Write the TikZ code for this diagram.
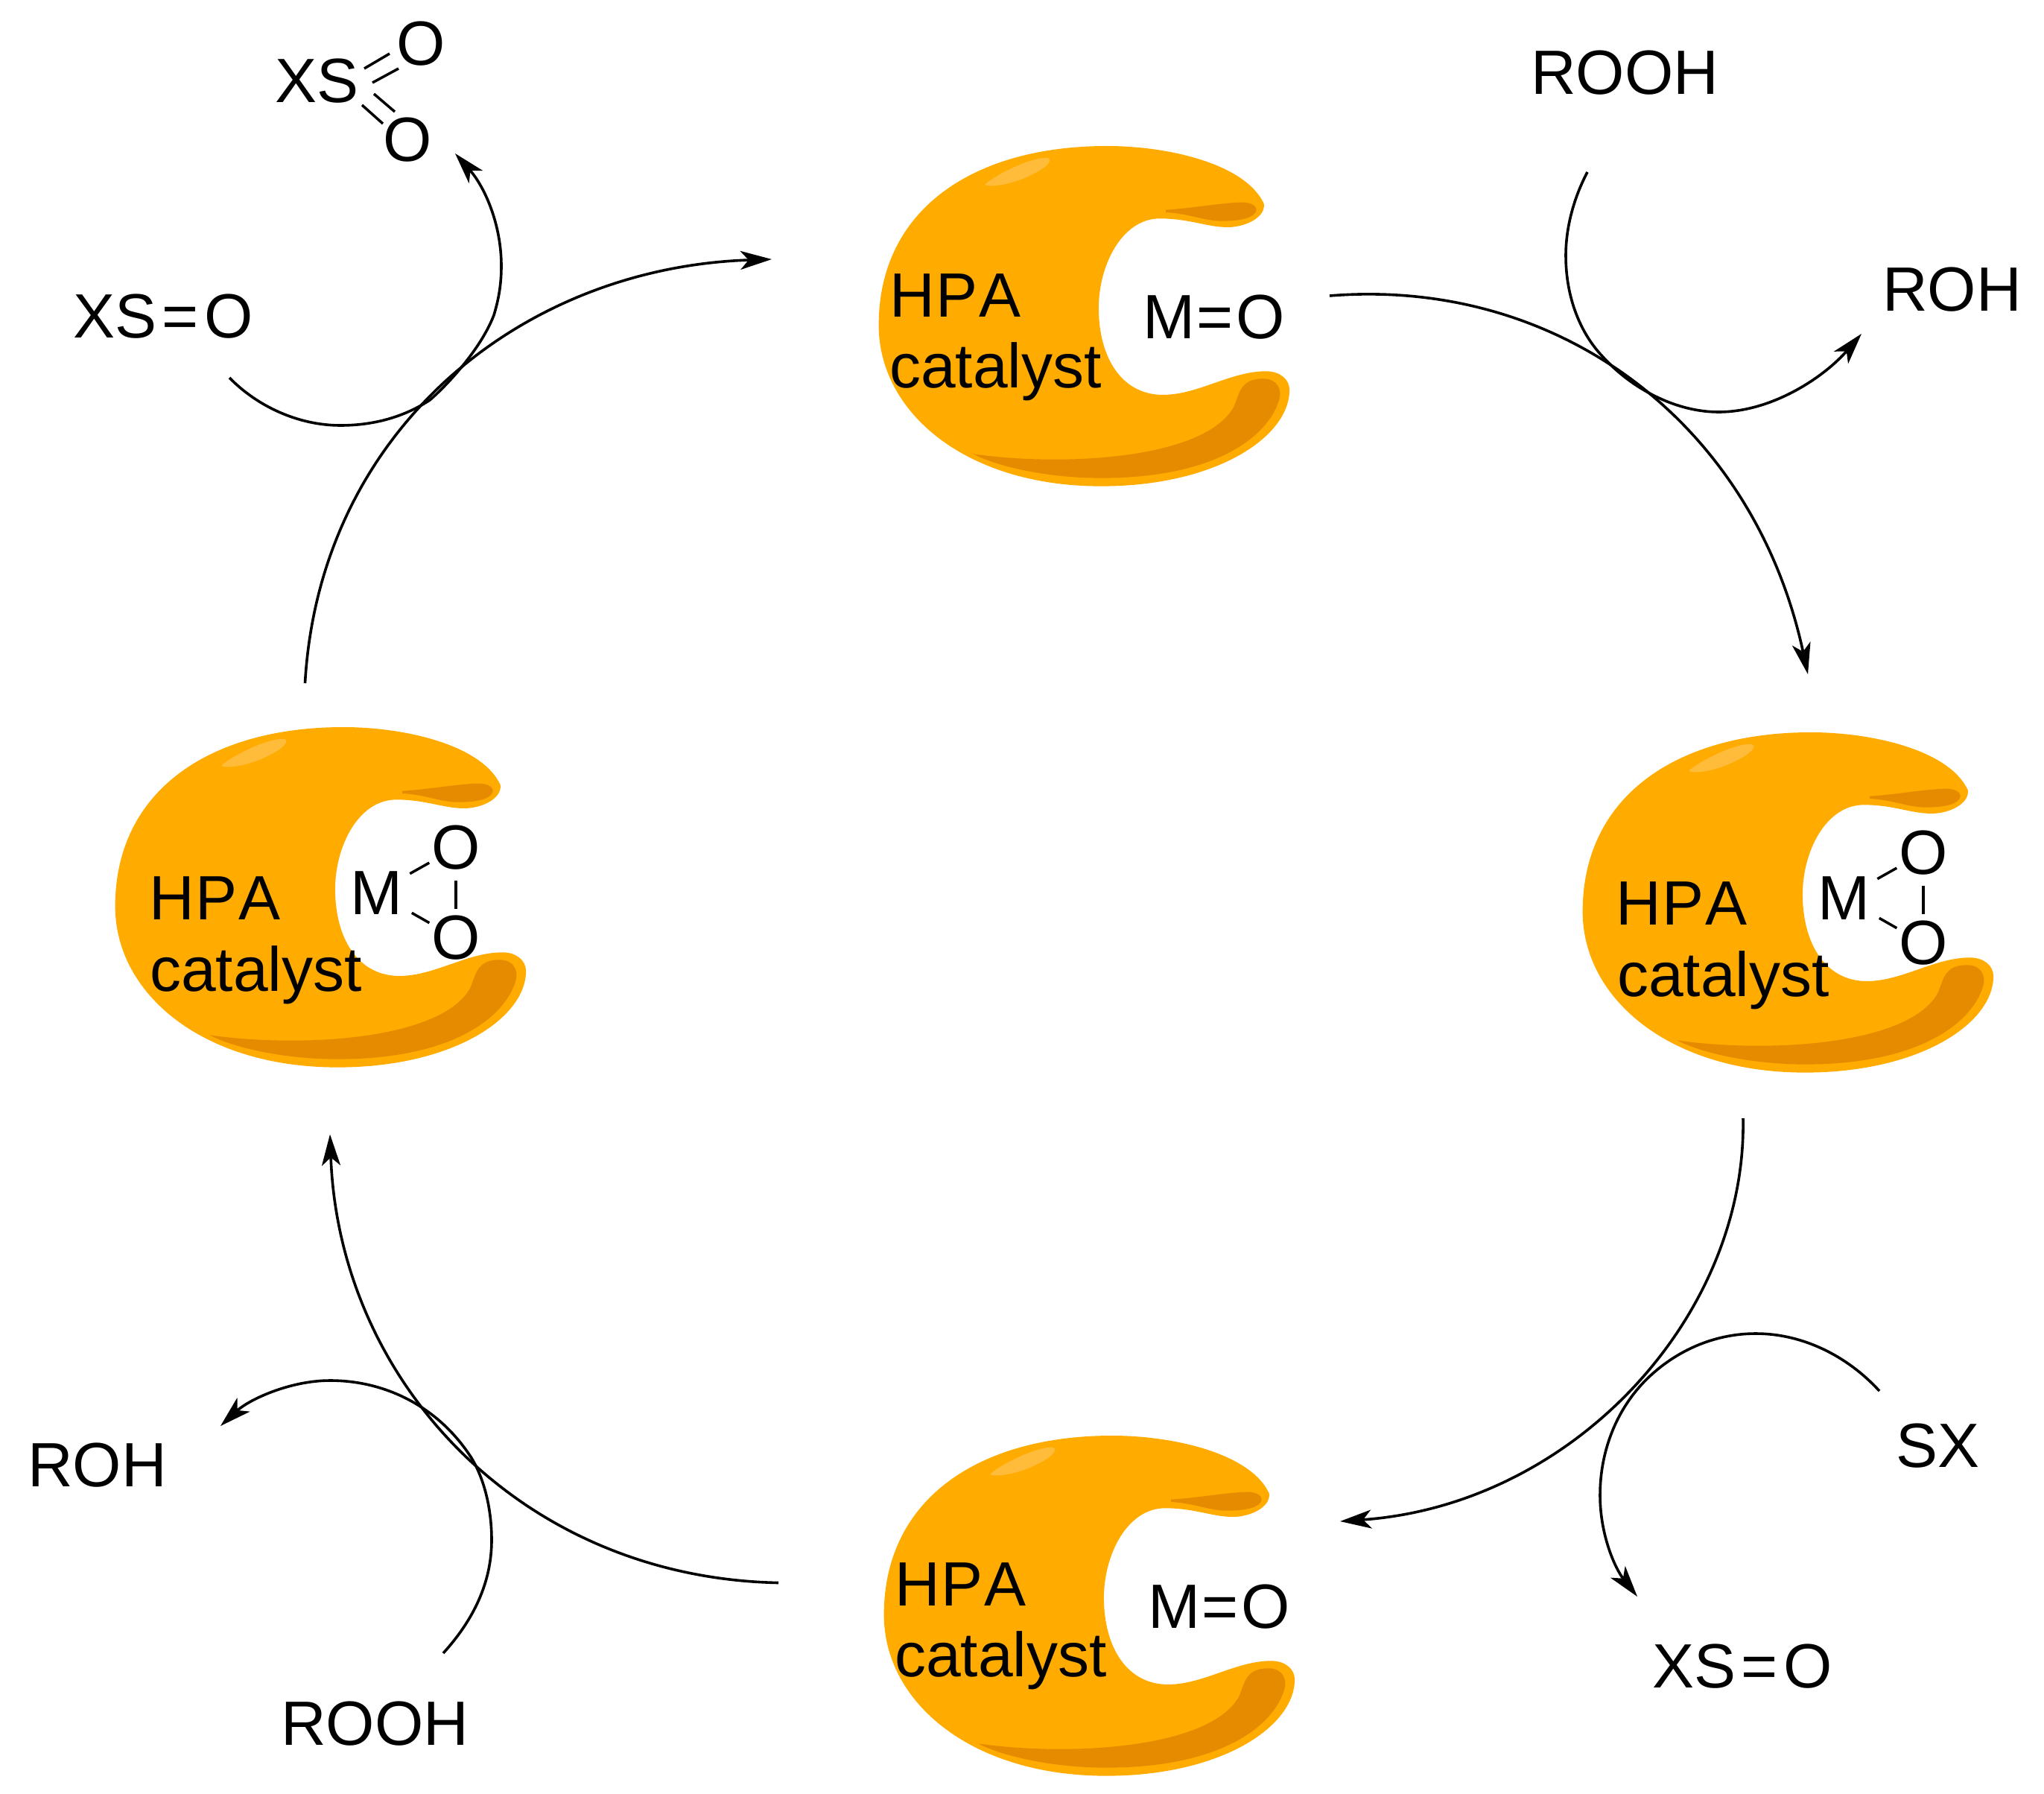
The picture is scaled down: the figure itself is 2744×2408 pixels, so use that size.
\documentclass[tikz,border=0pt]{standalone}
\usepackage{fontspec}
\setmainfont{Liberation Sans}
\usetikzlibrary{arrows.meta}
\definecolor{hpamain}{HTML}{FFAB00}
\definecolor{hpadark}{HTML}{E68A00}
\definecolor{hpalight}{HTML}{FFBC3A}
\tikzset{
  lbl/.style={inner sep=0pt,outer sep=0pt,anchor=base west,xshift=-3pt,yshift=3pt,font=\fontsize{84}{84}\selectfont},
  atom/.style={inner sep=0pt,outer sep=0pt,anchor=center,font=\fontsize{84}{84}\selectfont},
  bond/.style={line width=3.5pt,black},
  arc/.style={line width=3.6pt,black,-{Stealth[length=42pt,width=25pt,inset=11pt]}},
  pics/blob/.style={code={
    \begin{scope}[x=0.3953pt,y=-0.3333pt]
      \fill[hpamain] (850,78) .. controls (1060,78) and (1320,150) .. (1383,310)
        .. controls (1390,365) and (1320,405) .. (1260,405)
        .. controls (1190,405) and (1130,370) .. (1030,370)
        .. controls (900,370) and (822,560) .. (822,730)
        .. controls (822,930) and (900,1080) .. (1040,1080)
        .. controls (1160,1080) and (1270,985) .. (1390,985)
        .. controls (1440,985) and (1470,1020) .. (1470,1060)
        .. controls (1470,1250) and (1220,1448) .. (830,1448)
        .. controls (370,1448) and (75,1150) .. (75,800)
        .. controls (75,330) and (400,78) .. (850,78) -- cycle;
      \fill[hpadark] (1050,335) .. controls (1130,330) and (1250,305) .. (1310,305)
        .. controls (1345,305) and (1365,325) .. (1355,345)
        .. controls (1340,375) and (1280,380) .. (1240,380)
        .. controls (1180,380) and (1130,350) .. (1050,345) -- cycle;
      \fill[hpadark] (395,1318) .. controls (700,1370) and (1180,1340) .. (1280,1130)
        .. controls (1300,1080) and (1300,1015) .. (1380,1015)
        .. controls (1430,1015) and (1445,1060) .. (1435,1100)
        .. controls (1400,1240) and (1230,1415) .. (830,1415)
        .. controls (650,1415) and (480,1370) .. (395,1318) -- cycle;
      \fill[hpalight] (440,228) .. controls (480,190) and (580,130) .. (640,125)
        .. controls (665,125) and (660,145) .. (630,170)
        .. controls (570,215) and (500,240) .. (450,238)
        .. controls (435,237) and (435,232) .. (440,228) -- cycle;
    \end{scope}
  }}
}
\newcommand{\dbleq}[1]{\kern#1=\kern#1}
\newcommand{\hpatext}{H\kern2pt P\kern2pt A}
\begin{document}
\begin{tikzpicture}[x=1pt,y=-1pt]
\useasboundingbox[fill=white] (0,0) rectangle (2744,2408);
% catalysts
\pic at (1150,170) {blob};
\pic at (2095,957) {blob};
\pic at (1157,1901) {blob};
\pic at (125,950) {blob};
% top catalyst
\node[lbl] (thpa) at (1197,428) {\hpatext};
\node[lbl] (tcat) at (1197,523) {catalyst};
\node[lbl] (tmo) at (1537,457) {M\dbleq{3pt}O};
% bottom catalyst
\node[lbl] (bhpa) at (1204,2158) {\hpatext};
\node[lbl] (bcat) at (1204,2253) {catalyst};
\node[lbl] (bmo) at (1544,2188) {M\dbleq{3pt}O};
% left catalyst
\node[lbl] (lhpa) at (203,1237) {\hpatext};
\node[lbl] (lcat) at (204,1333) {catalyst};
\node[lbl] (lm) at (473,1230) {M};
\node[atom] (lo1) at (612,1138) {O};
\node[atom] (lo2) at (612,1259) {O};
\draw[bond,shorten <=52pt,shorten >=41pt] (lm.center) -- (lo1.center);
\draw[bond,shorten <=55pt,shorten >=41pt] (lm.center) -- (lo2.center);
\draw[bond,shorten <=14pt,shorten >=9pt] (lo1.south) -- (lo2.north);
% right catalyst
\node[lbl] (rhpa) at (2172,1244) {\hpatext};
\node[lbl] (rcat) at (2174,1340) {catalyst};
\node[lbl] (rm) at (2443,1237) {M};
\node[atom] (ro1) at (2582,1145) {O};
\node[atom] (ro2) at (2582,1266) {O};
\draw[bond,shorten <=52pt,shorten >=41pt] (rm.center) -- (ro1.center);
\draw[bond,shorten <=55pt,shorten >=41pt] (rm.center) -- (ro2.center);
\draw[bond,shorten <=14pt,shorten >=9pt] (ro1.south) -- (ro2.north);
% species
\node[lbl] (xso1) at (101,456) {XS\dbleq{7.5pt}O};
\node[lbl] (xs) at (372,141) {XS};
\node[atom] (so1) at (565,59) {O};
\node[atom] (so2) at (547,188) {O};
\coordinate (d1a) at (489,92); \coordinate (d1b) at (523,72);
\coordinate (d2a) at (500,111); \coordinate (d2b) at (535,92);
\coordinate (d3a) at (502,126); \coordinate (d3b) at (530,150);
\coordinate (d4a) at (486,141); \coordinate (d4b) at (514,166);
\draw[bond] (d1a) -- (d1b);
\draw[bond] (d2a) -- (d2b);
\draw[bond] (d3a) -- (d3b);
\draw[bond] (d4a) -- (d4b);
\node[lbl] (rooh1) at (2058,130) {ROOH};
\node[lbl] (roh1) at (2530,420) {ROH};
\node[lbl] (sx) at (2548,1972) {SX};
\node[lbl] (xso2) at (2221,2268) {XS\dbleq{7.5pt}O};
\node[lbl] (roh2) at (40,1998) {ROH};
\node[lbl] (rooh2) at (380,2345) {ROOH};
% connector ends
\coordinate (c1s) at (1785,397); \coordinate (c1e) at (2427,905);
\coordinate (c2s) at (2340,1501); \coordinate (c2e) at (1799,2042);
\coordinate (c3s) at (1045,2124.5); \coordinate (c3e) at (443,1522.5);
\coordinate (c4s) at (409.5,917); \coordinate (c4e) at (1036,348);
\coordinate (as) at (308,507); \coordinate (ae) at (611,206);
\coordinate (bs) at (2131,231); \coordinate (be) at (2499,448);
\coordinate (cs) at (2523,1867); \coordinate (ce) at (2198,2143);
\coordinate (ds) at (595,2219); \coordinate (de) at (296,1914);
% main cycle
\draw[arc] (c1s) .. controls (2095,372) and (2355,570) .. (c1e);
\draw[arc] (c2s) .. controls (2345,1767) and (2112,2020) .. (c2e);
\draw[arc] (c3s) .. controls (700,2117.5) and (455,1855) .. (c3e);
\draw[arc] (c4s) .. controls (429,577.5) and (700,359) .. (c4e);
% side arcs
\draw[arc] (as) .. controls (345,545) and (400,571) .. (457,571)
  .. controls (505,571) and (545,558) .. (577,537)
  .. controls (598,519) and (645,470) .. (663,423)
  .. controls (670,400) and (673,380) .. (673,357)
  .. controls (673,300) and (650,250) .. (ae);
\draw[arc] (bs) .. controls (2113,265) and (2102,305) .. (2102,343)
  .. controls (2102,400) and (2122,447) .. (2150,477)
  .. controls (2190,522) and (2250,553) .. (2307,553)
  .. controls (2380,553) and (2450,505) .. (be);
\draw[arc] (cs) .. controls (2480,1820) and (2420,1790) .. (2357,1790)
  .. controls (2305,1790) and (2255,1810) .. (2215,1847)
  .. controls (2172,1887) and (2148,1945) .. (2148,2007)
  .. controls (2148,2060) and (2168,2105) .. (ce);
\draw[arc] (ds) .. controls (635,2175) and (660,2125) .. (660,2067)
  .. controls (660,2025) and (650,1985) .. (633,1957)
  .. controls (590,1890) and (520,1853) .. (443,1853)
  .. controls (390,1853) and (335,1878) .. (de);
\end{tikzpicture}
\end{document}
